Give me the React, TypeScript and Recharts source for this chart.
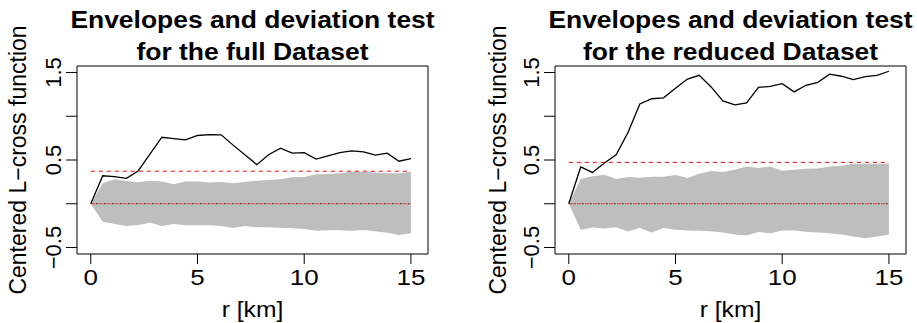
import {
  ComposedChart,
  Area,
  Line,
  XAxis,
  YAxis,
  ReferenceArea,
} from 'recharts';

// r grid (km), shared by both panels
const R_KM = [0, 0.56, 1.11, 1.67, 2.22, 2.78, 3.33, 3.89, 4.44, 5, 5.56, 6.11, 6.67, 7.22, 7.78, 8.33, 8.89, 9.44, 10, 10.56, 11.11, 11.67, 12.22, 12.78, 13.33, 13.89, 14.44, 15];

// full dataset
const FULL_OBS = [0, 0.32, 0.31, 0.29, 0.375, 0.57, 0.76, 0.745, 0.73, 0.78, 0.79, 0.787, 0.67, 0.56, 0.447, 0.56, 0.635, 0.578, 0.585, 0.51, 0.547, 0.585, 0.604, 0.593, 0.555, 0.578, 0.486, 0.516];
const FULL_HI = [0, 0.234, 0.28, 0.261, 0.246, 0.264, 0.253, 0.223, 0.253, 0.253, 0.242, 0.25, 0.234, 0.25, 0.264, 0.272, 0.28, 0.303, 0.307, 0.337, 0.341, 0.349, 0.367, 0.367, 0.356, 0.349, 0.349, 0.367];
const FULL_LO = [0, -0.205, -0.231, -0.254, -0.243, -0.216, -0.254, -0.231, -0.246, -0.246, -0.246, -0.254, -0.277, -0.254, -0.269, -0.269, -0.273, -0.281, -0.288, -0.307, -0.304, -0.304, -0.307, -0.3, -0.315, -0.33, -0.357, -0.338];
const FULL_CRIT = 0.372;

// reduced dataset
const RED_OBS = [0, 0.42, 0.358, 0.465, 0.56, 0.816, 1.14, 1.2, 1.21, 1.32, 1.425, 1.468, 1.335, 1.175, 1.13, 1.152, 1.33, 1.342, 1.373, 1.278, 1.354, 1.388, 1.48, 1.457, 1.419, 1.453, 1.468, 1.514];
const RED_HI = [0, 0.282, 0.313, 0.332, 0.282, 0.305, 0.297, 0.309, 0.309, 0.328, 0.294, 0.343, 0.374, 0.362, 0.389, 0.427, 0.408, 0.427, 0.378, 0.389, 0.4, 0.404, 0.427, 0.435, 0.458, 0.458, 0.458, 0.458];
const RED_LO = [0, -0.297, -0.271, -0.282, -0.267, -0.317, -0.278, -0.328, -0.278, -0.297, -0.305, -0.309, -0.313, -0.328, -0.351, -0.362, -0.324, -0.336, -0.305, -0.305, -0.32, -0.328, -0.336, -0.351, -0.374, -0.393, -0.374, -0.355];
const RED_CRIT = 0.473;

const X_TICKS = [0, 5, 10, 15];
const Y_TICKS = [-0.5, 0, 0.5, 1, 1.5];
const Y_LABELLED = [-0.5, 0.5, 1.5];
const X_DOMAIN: [number, number] = [-0.645, 15.8];
const Y_DOMAIN: [number, number] = [-0.574, 1.574];

const FONT = '"Liberation Sans", Arial, sans-serif';
const STRETCH = 1.18; // horizontal text looks wider than normal Arial

const XTick = (props: any) => {
  const { x, y, payload } = props;
  return (
    <text
      transform={`translate(${x},${y + 18.7}) scale(${STRETCH},1)`}
      textAnchor="middle"
      fontSize={22}
      fontFamily={FONT}
      fill="#000"
    >
      {payload.value}
    </text>
  );
};

const YTick = (props: any) => {
  const { x, y, payload } = props;
  const v = payload.value;
  if (!Y_LABELLED.includes(v)) return <g />;
  const label = v < 0 ? `\u2212${Math.abs(v)}` : `${v}`;
  return (
    <text
      x={x}
      y={y}
      transform={`rotate(-90, ${x}, ${y})`}
      textAnchor="middle"
      fontSize={22}
      fontFamily={FONT}
      fill="#000"
    >
      {label}
    </text>
  );
};

interface PanelProps {
  left: number;
  width: number;
  axisWidth: number;
  rightMargin: number;
  obs: number[];
  lo: number[];
  hi: number[];
  crit: number;
}

function Panel({ left, width, axisWidth, rightMargin, obs, lo, hi, crit }: PanelProps) {
  const data = R_KM.map((r, i) => ({
    r,
    obs: obs[i],
    band: [lo[i], hi[i]],
    zero: 0,
    crit,
  }));

  return (
    <div style={{ position: 'absolute', left, top: 0 }}>
      <ComposedChart
        width={width}
        height={323}
        data={data}
        margin={{ top: 66, right: rightMargin, bottom: 0, left: 0 }}
      >
        <XAxis
          type="number"
          dataKey="r"
          domain={X_DOMAIN}
          allowDataOverflow
          ticks={X_TICKS}
          interval={0}
          axisLine={false}
          tickLine={{ stroke: '#000' }}
          tickSize={10}
          tick={<XTick />}
          height={69}
        />
        <YAxis
          type="number"
          domain={Y_DOMAIN}
          allowDataOverflow
          ticks={Y_TICKS}
          interval={0}
          axisLine={false}
          tickLine={{ stroke: '#000' }}
          tickSize={11}
          tickMargin={5}
          tick={<YTick />}
          width={axisWidth}
        />
        <Area
          type="linear"
          dataKey="band"
          stroke="none"
          fill="#BEBEBE"
          fillOpacity={1}
          isAnimationActive={false}
        />
        <Line type="linear" dataKey="zero" stroke="#F03030" strokeDasharray="4 4" strokeWidth={1} dot={false} isAnimationActive={false} />
        <Line type="linear" dataKey="zero" stroke="#333" strokeDasharray="2 6" strokeDashoffset={-5} strokeWidth={1} dot={false} isAnimationActive={false} />
        <Line type="linear" dataKey="crit" stroke="#FF0000" strokeDasharray="4 4" strokeWidth={1} dot={false} isAnimationActive={false} />
        <Line type="linear" dataKey="obs" stroke="#000" strokeWidth={1.3} dot={false} isAnimationActive={false} />
        <ReferenceArea
          x1={X_DOMAIN[0]}
          x2={X_DOMAIN[1]}
          y1={Y_DOMAIN[0]}
          y2={Y_DOMAIN[1]}
          fill="none"
          stroke="#000"
          strokeWidth={1}
          ifOverflow="visible"
        />
      </ComposedChart>
    </div>
  );
}

function Labels() {
  const titleStyle = { fontSize: 23, fontWeight: 700, fontFamily: FONT, fill: '#000' };
  const labStyle = { fontSize: 22, fontFamily: FONT, fill: '#000' };
  const panels = [
    { cx: 252.5, yl: 26, sub: 'for the full Dataset' },
    { cx: 730.5, yl: 506, sub: 'for the reduced Dataset' },
  ];
  return (
    <svg width={917} height={323} style={{ position: 'absolute', left: 0, top: 0, pointerEvents: 'none' }}>
      {panels.map((p) => (
        <g key={p.sub}>
          <text transform={`translate(${p.cx},28.3) scale(1.15,1)`} textAnchor="middle" style={titleStyle}>
            Envelopes and deviation test
          </text>
          <text transform={`translate(${p.cx},60) scale(1.15,1)`} textAnchor="middle" style={titleStyle}>
            {p.sub}
          </text>
          <text transform={`translate(${p.cx},317) scale(1.12,1)`} textAnchor="middle" style={labStyle}>
            r [km]
          </text>
          <text
            transform={`translate(${p.yl},160) rotate(-90)`}
            textAnchor="middle"
            style={{ ...labStyle, fontSize: 23 }}
          >
            Centered L{'\u2212'}cross function
          </text>
        </g>
      ))}
    </svg>
  );
}

export default function App() {
  return (
    <div style={{ position: 'absolute', left: 0, top: 0, width: 917, height: 323, overflow: 'hidden', background: '#fff' }}>
      <Panel left={0} width={458} axisWidth={77} rightMargin={30} obs={FULL_OBS} lo={FULL_LO} hi={FULL_HI} crit={FULL_CRIT} />
      <Panel left={458} width={459} axisWidth={97} rightMargin={11} obs={RED_OBS} lo={RED_LO} hi={RED_HI} crit={RED_CRIT} />
      <Labels />
    </div>
  );
}
